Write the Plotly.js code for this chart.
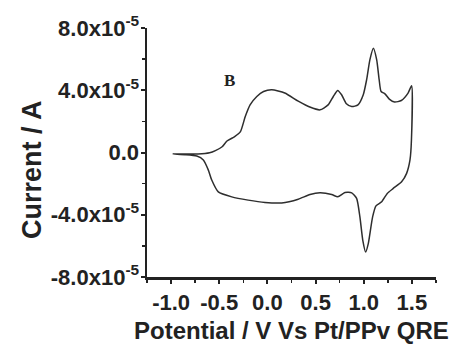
<!DOCTYPE html>
<html>
<head>
<meta charset="utf-8">
<script src="https://cdn.plot.ly/plotly-3.0.1.min.js"></script>
<style>
html,body{margin:0;padding:0;background:#fff;}
#chart{width:454px;height:351px;}
</style>
</head>
<body>
<div id="chart"></div>
<script>
// Cyclic voltammogram (panel B): potential (V vs Pt/PPv QRE) and current (A)
const potential = [
  -0.98, -0.85, -0.72, -0.60, -0.54, -0.47, -0.42, -0.34, -0.28, -0.23,
  -0.18, -0.11, -0.04, 0.045, 0.18, 0.32, 0.44, 0.546, 0.63, 0.684,
  0.73, 0.77, 0.82, 0.875, 0.94, 0.995, 1.03, 1.064, 1.10, 1.134,
  1.16, 1.18, 1.22, 1.265, 1.32, 1.39, 1.46, 1.497,
  1.495, 1.48, 1.445, 1.393, 1.306, 1.244, 1.186, 1.127, 1.092, 1.047,
  1.02, 0.99, 0.96, 0.926, 0.875, 0.805, 0.73, 0.667, 0.546, 0.442,
  0.32, 0.148, -0.025, -0.20, -0.37, -0.51, -0.578, -0.613, -0.665, -0.733,
  -0.855, -0.98
];
const current = [
  -0.10e-5, -0.10e-5, -0.10e-5, -0.02e-5, 0.12e-5, 0.37e-5, 0.74e-5, 1.02e-5, 1.34e-5, 2.31e-5,
  3.06e-5, 3.60e-5, 3.92e-5, 4.03e-5, 3.82e-5, 3.30e-5, 2.92e-5, 2.74e-5, 3.06e-5, 3.60e-5,
  3.99e-5, 3.71e-5, 3.13e-5, 2.95e-5, 3.06e-5, 3.71e-5, 4.68e-5, 5.97e-5, 6.70e-5, 5.97e-5,
  4.68e-5, 3.92e-5, 3.77e-5, 3.43e-5, 3.24e-5, 3.34e-5, 3.82e-5, 4.29e-5,
  0.80e-5, -0.48e-5, -1.34e-5, -1.88e-5, -2.31e-5, -2.63e-5, -3.17e-5, -3.43e-5, -4.14e-5, -5.86e-5,
  -6.40e-5, -5.64e-5, -4.14e-5, -2.95e-5, -2.59e-5, -2.57e-5, -2.85e-5, -2.70e-5, -2.59e-5, -2.70e-5,
  -3.00e-5, -3.24e-5, -3.21e-5, -3.06e-5, -2.85e-5, -2.53e-5, -1.77e-5, -1.13e-5, -0.48e-5, -0.23e-5,
  -0.14e-5, -0.10e-5
];
const xTickVals = [-1.0, -0.5, 0.0, 0.5, 1.0, 1.5];
const xTickText = ["-1.0", "-0.5", "0.0", "0.5", "1.0", "1.5"];
const yTickVals = [-8e-5, -4e-5, 0, 4e-5, 8e-5];
const yTickText = ["-8.0x10<sup>-5</sup>", "-4.0x10<sup>-5</sup>", "0.0", "4.0x10<sup>-5</sup>", "8.0x10<sup>-5</sup>"];
const xTitle = "Potential / V Vs Pt/PPv QRE";
const yTitle = "Current / A";
const panelLabel = "B";

const ink = "#222222";
const sans = "Liberation Sans, Arial, sans-serif";

const trace = {
  x: potential, y: current, type: "scatter", mode: "lines",
  line: {color: "#2e2e2e", width: 1.5, shape: "spline", smoothing: 0.6},
  hoverinfo: "skip"
};

const layout = {
  width: 454, height: 351,
  margin: {l: 147, r: 18, t: 28, b: 74},
  paper_bgcolor: "#ffffff", plot_bgcolor: "#ffffff",
  showlegend: false,
  xaxis: {
    range: [-1.25, 1.75], tickmode: "array", tickvals: xTickVals, ticktext: xTickText,
    tickangle: 0, showgrid: false, zeroline: false,
    showline: true, linecolor: ink, linewidth: 2.5,
    ticks: "outside", ticklen: 4, tickwidth: 2, tickcolor: ink,
    minor: {tick0: 0, dtick: 0.25, ticks: "outside", ticklen: 3, tickwidth: 1.5, tickcolor: ink},
    tickfont: {family: sans, size: 22, color: ink, weight: "bold"}
  },
  yaxis: {
    range: [-8e-5, 8e-5], tickmode: "array", tickvals: yTickVals, ticktext: yTickText,
    showgrid: false, zeroline: false,
    showline: true, linecolor: ink, linewidth: 2.5,
    ticks: "outside", ticklen: 4, tickwidth: 2, tickcolor: ink,
    ticklabelstandoff: -3,
    minor: {tick0: 0, dtick: 2e-5, ticks: "outside", ticklen: 3, tickwidth: 1.5, tickcolor: ink},
    tickfont: {family: sans, size: 22, color: ink, weight: "bold"}
  },
  annotations: [
    {text: yTitle, xref: "paper", yref: "paper", x: 0, y: 0.43, xshift: -115,
     xanchor: "center", yanchor: "middle", textangle: -90, showarrow: false,
     font: {family: sans, size: 27, color: ink, weight: "bold"}},
    {text: xTitle, xref: "paper", yref: "paper", x: 0.5, y: 0, yshift: -53,
     xanchor: "center", yanchor: "middle", showarrow: false,
     font: {family: sans, size: 24, color: ink, weight: "bold"}},
    {text: panelLabel, xref: "x", yref: "y", x: -0.393, y: 4.61e-5,
     xanchor: "center", yanchor: "middle", showarrow: false,
     font: {family: "Liberation Serif, Times New Roman, serif", size: 17, color: ink, weight: "bold"}}
  ]
};

Plotly.newPlot("chart", [trace], layout, {displayModeBar: false, staticPlot: true});
</script>
</body>
</html>
